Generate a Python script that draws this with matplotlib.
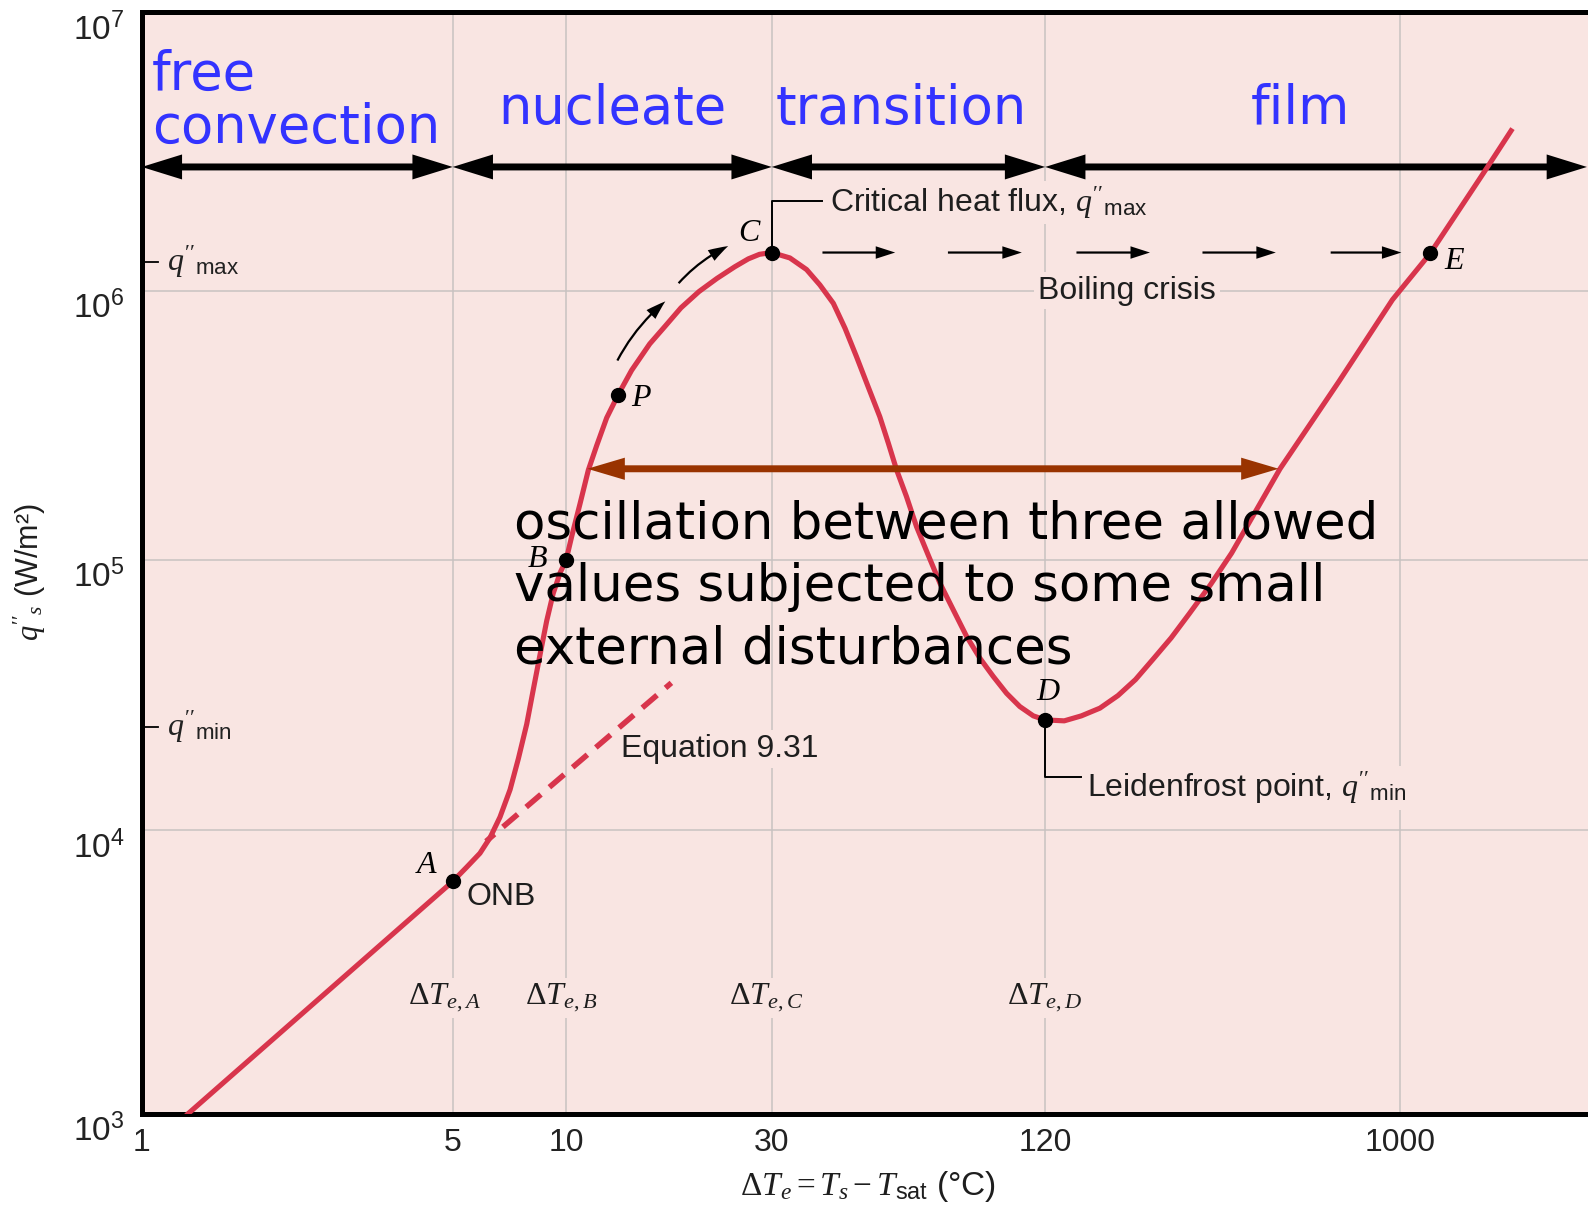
import numpy as np
import matplotlib
matplotlib.use("Agg")
import matplotlib.pyplot as plt
from matplotlib.transforms import blended_transform_factory

plt.rcParams['font.family'] = ['Liberation Sans', 'DejaVu Sans']
plt.rcParams['mathtext.fontset'] = 'custom'
plt.rcParams['mathtext.rm'] = 'Liberation Serif'
plt.rcParams['mathtext.it'] = 'Liberation Serif:italic'
plt.rcParams['mathtext.sf'] = 'Liberation Sans'

# boiling curve q''_s(dT_e)
dT_curve = [1.27, 5.0, 5.445, 5.906, 6.28, 6.675, 7.10, 7.47, 7.86, 8.18,
            8.52, 8.88, 9.24, 9.64, 10.0, 10.30, 10.77, 11.26, 11.78, 12.42,
            13.2, 14.19, 15.63, 16.99, 18.47, 20.34, 22.39, 24.63, 26.47, 28.1,
            30.0, 32.9, 35.8, 38.3, 41.0, 43.5, 46.1, 48.9, 51.9, 54.2,
            56.5, 59.4, 62.5, 66.3, 70.4, 75.3, 80.6, 86.2, 92.2, 98.7,
            105.5, 113, 120, 134.5, 149, 166.5, 185.5, 206, 229, 255,
            284, 323, 366, 489, 695, 958, 1190, 1648, 1884]
q_curve = [1.0e3, 6.6e3, 7.41e3, 8.30e3, 9.41e3, 1.119e4, 1.414e4, 1.842e4, 2.47e4, 3.31e4,
           4.44e4, 5.95e4, 7.52e4, 8.97e4, 1.0e5, 1.221e5, 1.616e5, 2.156e5, 2.665e5, 3.37e5,
           4.1e5, 5.06e5, 6.34e5, 7.39e5, 8.63e5, 9.92e5, 1.106e6, 1.218e6, 1.30e6, 1.35e6,
           1.37e6, 1.31e6, 1.19e6, 1.048e6, 8.97e5, 7.25e5, 5.69e5, 4.40e5, 3.40e5, 2.71e5,
           2.16e5, 1.72e5, 1.33e5, 1.044e5, 8.2e4, 6.54e4, 5.21e4, 4.33e4, 3.71e4, 3.21e4,
           2.87e4, 2.65e4, 2.56e4, 2.54e4, 2.65e4, 2.83e4, 3.15e4, 3.61e4, 4.30e4, 5.15e4,
           6.32e4, 8.12e4, 1.06e5, 2.18e5, 4.59e5, 9.25e5, 1.36e6, 2.78e6, 3.75e6]

point_names = ['A', 'B', 'P', 'C', 'D', 'E']
point_dT = [5, 10, 13.2, 30, 120, 1190]
point_q = [6.6e3, 1.0e5, 4.1e5, 1.37e6, 2.56e4, 1.36e6]

# Equation 9.31 (free convection line carried on, dashed)
eq931_dT = [6.13, 17.55]
eq931_q = [9.14e3, 3.51e4]

q_max = 1.27e6
q_min = 2.41e4

regime_names = ['free\nconvection', 'nucleate', 'transition', 'film']
regime_edges = [1, 5, 30, 120, 2900]
regime_q = 2.78e6

crisis_from = [38.8, 73.3, 144.7, 307.5, 662]
crisis_to = [56.1, 106.6, 224.6, 476.8, 1010]
crisis_q = 1.37e6

osc_dT = [11.2, 485]
osc_q = 2.18e5

dT_ticks = [1, 5, 10, 30, 120, 1000]
dT_ticklabels = ['1', '5', '10', '30', '120', '1000']
q_ticks = [1e3, 1e4, 1e5, 1e6, 1e7]
dT_mark_names = ['A', 'B', 'C', 'D']

BG = '#f9e5e2'
RED = '#d8354c'
BLUE = '#3333ff'
BROWN = '#993300'
GRID = '#c8c2c1'
INK = '#1e1e1e'

# the sketch is not a true log-log plot: decades have slightly different lengths
X_LOG = np.log10([1, 5, 10, 30, 120, 1000, 10 ** 3.5])
X_POS = [0, 307, 419, 622, 892, 1242, 1442]
Y_LOG = [3, 4, 5, 6, 7]
Y_POS = [0, 280, 547, 813, 1088]


def make_scale(logs, pos):
    def fwd(v):
        with np.errstate(divide='ignore', invalid='ignore'):
            return np.interp(np.log10(np.asarray(v, float)), logs, pos)

    def inv(p):
        return 10 ** np.interp(p, pos, logs)
    return fwd, inv


W, H = 1568, 1195


def fxy(px, py):
    return px / W, 1 - py / H


fig = plt.figure(figsize=(15.88, 12.10), dpi=100)
ax = fig.add_axes([140 / W, 1 - 1100 / H, 1442 / W, 1088 / H])
ax.set_facecolor(BG)
ax.set_xscale('function', functions=make_scale(X_LOG, X_POS))
ax.set_yscale('function', functions=make_scale(Y_LOG, Y_POS))
ax.set_xlim(1, 10 ** 3.5)
ax.set_ylim(1e3, 1e7)

ax.set_xticks(dT_ticks, labels=dT_ticklabels)
ax.set_yticks(q_ticks)
ax.tick_params(axis='x', length=0, pad=10, labelsize=23, labelcolor='#222222')
ax.tick_params(axis='y', length=0, labelleft=False)
ax.grid(True, color=GRID, lw=1.1)
ax.set_axisbelow(True)
for s in ['left', 'top', 'bottom']:
    ax.spines[s].set_linewidth(3.6)
ax.spines['right'].set_visible(False)

# y tick labels sit just under their levels
ytr = blended_transform_factory(fig.transFigure, ax.transData)
for v in q_ticks:
    ax.text(123 / W, v, r'$\mathsf{10^{%d}}$' % round(np.log10(v)), transform=ytr,
            ha='right', va='top', fontsize=24, color='#222222')

# q''max / q''min marks on the axis
yax = ax.get_yaxis_transform()
for v, lab in [(q_max, 'max'), (q_min, 'min')]:
    ax.plot([0, 0.011], [v, v], color='k', lw=1.3, transform=yax, clip_on=False)
    ax.text(165 / W, v, r"$q''_{\mathsf{%s}}$" % lab, transform=ytr,
            ha='left', va='center', fontsize=23, color='#222222')

# curve, dashed correlation and points
ax.plot(dT_curve, q_curve, color=RED, lw=3.7, solid_joinstyle='round', zorder=6)
ax.plot(eq931_dT, eq931_q, color=RED, lw=4, ls=(1.5, (3.5, 2)), zorder=6)
ax.plot(point_dT, point_q, 'o', color='k', ms=10, zorder=7)

label_px = {'A': (421, 855), 'B': (531, 553), 'P': (633, 394),
            'C': (739, 231), 'D': (1035, 684), 'E': (1436, 258)}
for name in point_names:
    ax.text(*fxy(*label_px[name]), name, transform=fig.transFigure, ha='center', va='center',
            fontsize=23, family='Liberation Serif', style='italic', zorder=8)


def arrow(x0, y0, x1, y1, color, tail, hw, hl, rad=0.0, z=5):
    ax.annotate('', xy=(x1, y1), xytext=(x0, y0), annotation_clip=False,
                arrowprops=dict(arrowstyle='simple,head_length=%g,head_width=%g,tail_width=%g' % (hl, hw, tail),
                                mutation_scale=1, fc=color, ec='none', lw=0,
                                connectionstyle='arc3,rad=%g' % rad,
                                shrinkA=0, shrinkB=0), zorder=z)


def double_arrow(x0, x1, y, color, tail, hw, hl, z=5):
    # one plain shaft, then a head at each end whose thin tail hides inside it
    ax.annotate('', xy=(x1, y), xytext=(x0, y), annotation_clip=False,
                arrowprops=dict(arrowstyle='-', color=color, lw=tail,
                                shrinkA=hl * 0.6, shrinkB=hl * 0.6), zorder=z)
    xm = np.sqrt(x0 * x1)
    arrow(xm, y, x0, y, color, tail * 0.6, hw, hl, z=z)
    arrow(xm, y, x1, y, color, tail * 0.6, hw, hl, z=z)


# regime arrows and names
for a, b in zip(regime_edges[:-1], regime_edges[1:]):
    double_arrow(a, b, regime_q, 'k', 5, 18, 29)
ax.text(*fxy(150, 141), regime_names[0], transform=fig.transFigure, ha='left', va='baseline',
        fontsize=38, color=BLUE, family='DejaVu Sans', linespacing=1.03)
for name, cx in zip(regime_names[1:], [605, 890, 1284]):
    ax.text(*fxy(cx, 122), name, transform=fig.transFigure, ha='center', va='baseline',
            fontsize=38, color=BLUE, family='DejaVu Sans')

# boiling crisis arrows
for a, b in zip(crisis_from, crisis_to):
    arrow(a, crisis_q, b, crisis_q, 'k', 1.6, 9, 14)

# arrows along the nucleate branch
arrow(13.15, 5.5e5, 16.99, 9.12e5, 'k', 1.6, 9, 14, rad=-0.1)
arrow(18.24, 1.063e6, 23.77, 1.445e6, 'k', 1.6, 9, 14, rad=-0.1)

# oscillation arrow
double_arrow(osc_dT[0], osc_dT[1], osc_q, BROWN, 5, 16, 27, z=7)

# leader lines
ax.plot([30, 30, 38.7], [1.37e6, 2.1e6, 2.1e6], color='k', lw=1.4, zorder=5)
ax.plot([120, 120, 149], [2.56e4, 1.57e4, 1.57e4], color='k', lw=1.4, zorder=5)

box = dict(boxstyle='square,pad=0.12', fc=BG, ec='none')
notes = [
    ((820, 200), r"Critical heat flux, $q''_{\mathsf{max}}$"),
    ((1025, 287), 'Boiling crisis'),
    ((613, 740), 'Equation 9.31'),
    ((1073, 778), r"Leidenfrost point, $q''_{\mathsf{min}}$"),
    ((461, 886), 'ONB'),
]
for (px, py), txt in notes:
    ax.text(*fxy(px, py), txt, transform=fig.transFigure, ha='left', va='center',
            fontsize=23, color=INK, bbox=box, zorder=4)

for name, cx in zip(dT_mark_names, [439, 554, 756, 1031]):
    ax.text(*fxy(cx, 986), r'$\Delta T_{e,%s}$' % name, transform=fig.transFigure,
            ha='center', va='center', fontsize=23, color=INK, bbox=box, zorder=4)

ax.text(*fxy(508, 655), 'oscillation between three allowed\nvalues subjected to some small\nexternal disturbances',
        transform=fig.transFigure, ha='left', va='baseline', fontsize=37,
        family='DejaVu Sans', color='k', linespacing=1.32, zorder=9)

fig.text(*fxy(857, 1172), r'$\Delta T_e = T_s - T_{\mathsf{sat}}$ (°C)', ha='center', va='center',
         fontsize=24, color=INK)
fig.text(*fxy(30, 565), r"$q''_s$ (W/m²)", ha='center', va='center', rotation=90,
         fontsize=22, color=INK)

fig.savefig('out.png', dpi=100)
